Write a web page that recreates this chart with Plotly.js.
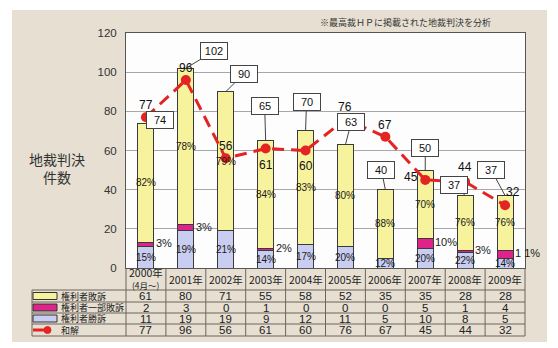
<!DOCTYPE html>
<html><head><meta charset="utf-8">
<script src="https://cdn.plot.ly/plotly-3.0.1.min.js"></script>
<style>html,body{margin:0;padding:0;background:#fff}</style>
</head><body><div id="chart" style="width:558px;height:348px"></div>
<script>
// ---- data ----
const years = ['2000年','2001年','2002年','2003年','2004年','2005年','2006年','2007年','2008年','2009年'];
const yearSub = ['(4月〜)','','','','','','','','',''];
const seriesNames = ['権利者敗訴','権利者一部敗訴','権利者勝訴','和解'];
const loseAll  = [61,80,71,55,58,52,35,35,28,28];
const losePart = [2,3,0,1,0,0,0,5,1,4];
const winAll   = [11,19,19,9,12,11,5,10,8,5];
const settle   = [77,96,56,61,60,76,67,45,44,32];
const pctLose = ['82%','78%','79%','84%','83%','80%','88%','70%','76%','76%'];
const pctPart = ['3%','3%','','2%','','','','10%','3%','1 1%'];
const pctWin  = ['15%','19%','21%','14%','17%','20%','12%','20%','22%','14%'];
const noteText = '※最高裁ＨＰに掲載された地裁判決を分析';
const yTitle = '地裁判決<br>件数';

// ---- layout geometry / styles ----
const W=558,H=348,L=126,R=33,T=33,B=80;
const PW=W-L-R, PH=H-T-B;
const px2xp = p => (p-L)/PW;
const py2yp = p => (H-B-p)/PH;
const FONT = 'Liberation Sans, Arial, Noto Sans CJK JP, sans-serif';
const JFONT = 'Noto Sans CJK JP, Liberation Sans, sans-serif';
const colYellow='#f7f39c', colMag='#e0228a', colBlue='#c9cdf1', colRed='#e42323', colLine='#3a3a3a';
const calloutOff = [[14,-3],[28,-17],[18,-18],[-1,-35],[1,-29],[6,-23],[-4,-20],[0,-22],[-11,-11],[-14,-26]];
const settleOff = [[0,12],[0,12],[0,12],[0,-16],[0,-15],[0,12],[0,12],[-14,3],[0,15],[8,13]];
const rowY = [296,307.5,318.5,330];
const rowLines = [290,302,313,324,336];

const totals = years.map((_,i)=>loseAll[i]+losePart[i]+winAll[i]);

const barLine = {color:colLine,width:1};
const traces = [
  {type:'bar',x:years,y:winAll,name:seriesNames[2],marker:{color:colBlue,line:barLine},width:0.4,hoverinfo:'skip'},
  {type:'bar',x:years,y:losePart,name:seriesNames[1],marker:{color:colMag,line:barLine},width:0.4,hoverinfo:'skip'},
  {type:'bar',x:years,y:loseAll,name:seriesNames[0],marker:{color:colYellow,line:barLine},width:0.4,hoverinfo:'skip'},
  {type:'scatter',mode:'lines+markers',x:years,y:settle,name:seriesNames[3],
   line:{color:colRed,width:3,dash:'12px,7px'},marker:{color:colRed,size:10},hoverinfo:'skip'}
];

const C = {xanchor:'center',yanchor:'middle',showarrow:false};
const ann = [];
// percent labels
years.forEach((yr,i)=>{
  ann.push(Object.assign({x:yr,y:winAll[i]+losePart[i]+loseAll[i]/2,xref:'x',yref:'y',text:pctLose[i],
    font:{family:FONT,size:10,color:'#1a1a1a'}},C));
  ann.push(Object.assign({x:yr,y:winAll[i]/2,xref:'x',yref:'y',text:pctWin[i],
    font:{family:FONT,size:10,color:'#1a1a1a'}},C));
  if(pctPart[i]) ann.push(Object.assign({},C,{x:yr,y:winAll[i]+losePart[i]/2+0.6,xref:'x',yref:'y',text:pctPart[i],
    xanchor:'left',xshift:8,font:{family:FONT,size:11,color:'#1a1a1a'}}));
});
// settle labels
years.forEach((yr,i)=>{
  ann.push(Object.assign({x:yr,y:settle[i],xref:'x',yref:'y',text:String(settle[i]),
    xshift:settleOff[i][0],yshift:settleOff[i][1],font:{family:FONT,size:12,color:'#111'}},C));
});
// callouts with totals
years.forEach((yr,i)=>{
  ann.push({x:yr,y:totals[i],xref:'x',yref:'y',text:String(totals[i]),showarrow:true,arrowhead:0,
    arrowcolor:'#444',arrowwidth:1,ax:calloutOff[i][0],ay:calloutOff[i][1],
    bgcolor:'#ffffff',bordercolor:'#444',borderwidth:1,borderpad:2,width:22,height:12,
    font:{family:FONT,size:11,color:'#111'}});
});
// table header
years.forEach((yr,i)=>{
  ann.push(Object.assign({x:yr,y:py2yp(yearSub[i]?272.5:279),xref:'x',yref:'paper',text:yr,
    font:{family:JFONT,size:10.5,color:'#222'}},C));
  if(yearSub[i]) ann.push(Object.assign({x:yr,y:py2yp(284.5),xref:'x',yref:'paper',text:yearSub[i],
    font:{family:JFONT,size:8.5,color:'#222'}},C));
});
// table values
[loseAll,losePart,winAll,settle].forEach((row,r)=>{
  row.forEach((v,i)=>{
    ann.push(Object.assign({x:years[i],y:py2yp(rowY[r]),xref:'x',yref:'paper',text:String(v),
      font:{family:FONT,size:11.5,color:'#222'}},C));
  });
  ann.push(Object.assign({},C,{x:px2xp(59),y:py2yp(rowY[r]),xref:'paper',yref:'paper',xanchor:'left',text:seriesNames[r],
    font:{family:JFONT,size:9,color:'#222'}}));
});
// titles
ann.push(Object.assign({x:px2xp(57),y:py2yp(168),xref:'paper',yref:'paper',text:yTitle,
  font:{family:JFONT,size:14,color:'#333'}},C));
ann.push(Object.assign({x:px2xp(405),y:py2yp(23),xref:'paper',yref:'paper',text:noteText,
  font:{family:JFONT,size:9,color:'#333'}},C));

const shapes = [
  {type:'rect',xref:'paper',yref:'paper',x0:px2xp(12),x1:px2xp(547),y0:py2yp(342),y1:py2yp(10),
   fillcolor:'#e6dfd2',line:{width:0},layer:'below'},
  {type:'rect',xref:'paper',yref:'paper',x0:0,x1:1,y0:0,y1:1,fillcolor:'#fdfdfe',line:{width:0},layer:'below'}
];
const tl = {color:'#6e655b',width:1};
rowLines.forEach(p=>shapes.push({type:'line',xref:'paper',yref:'paper',x0:px2xp(32),x1:1,y0:py2yp(p),y1:py2yp(p),line:tl}));
shapes.push({type:'line',xref:'paper',yref:'paper',x0:px2xp(32),x1:px2xp(32),y0:py2yp(290),y1:py2yp(336),line:tl});
shapes.push({type:'line',xref:'paper',yref:'paper',x0:0,x1:0,y0:0,y1:py2yp(336),line:tl});
shapes.push({type:'line',xref:'paper',yref:'paper',x0:1,x1:1,y0:0,y1:py2yp(336),line:tl});
for(let i=0;i<years.length-1;i++){
  shapes.push({type:'line',xref:'x',yref:'paper',x0:i+0.5,x1:i+0.5,y0:0,y1:py2yp(336),line:tl});
}
// legend swatches
[colYellow,colMag,colBlue].forEach((c,r)=>{
  shapes.push({type:'rect',xref:'paper',yref:'paper',x0:px2xp(33),x1:px2xp(57),
    y0:py2yp(rowY[r]+3.5),y1:py2yp(rowY[r]-3.5),fillcolor:c,line:{color:'#333',width:1}});
});
shapes.push({type:'line',xref:'paper',yref:'paper',x0:px2xp(33),x1:px2xp(48),y0:py2yp(rowY[3]),y1:py2yp(rowY[3]),
  line:{color:colRed,width:3}});
shapes.push({type:'circle',xref:'paper',yref:'paper',x0:px2xp(44),x1:px2xp(51),y0:py2yp(rowY[3]+3.5),y1:py2yp(rowY[3]-3.5),
  fillcolor:colRed,line:{color:colRed,width:1}});

const layout = {
  width:W,height:H,margin:{l:L,r:R,t:T,b:B,pad:0},
  paper_bgcolor:'#ffffff',plot_bgcolor:'#fdfdfe',
  barmode:'stack',showlegend:false,
  font:{family:FONT,color:'#333'},
  xaxis:{type:'category',range:[-0.5,9.5],showticklabels:false,showgrid:false,zeroline:false,
    showline:true,mirror:true,linecolor:'#555',linewidth:1,ticks:'',automargin:false},
  yaxis:{range:[0,120],dtick:20,showgrid:true,gridcolor:'#a8a8a8',gridwidth:1,zeroline:false,
    showline:true,mirror:true,linecolor:'#555',linewidth:1,ticks:'',ticklabelstandoff:6,
    tickfont:{family:FONT,size:11.5,color:'#333'},automargin:false},
  annotations:ann,shapes:shapes
};
Plotly.newPlot('chart',traces,layout,{staticPlot:true,displayModeBar:false});
</script></body></html>
